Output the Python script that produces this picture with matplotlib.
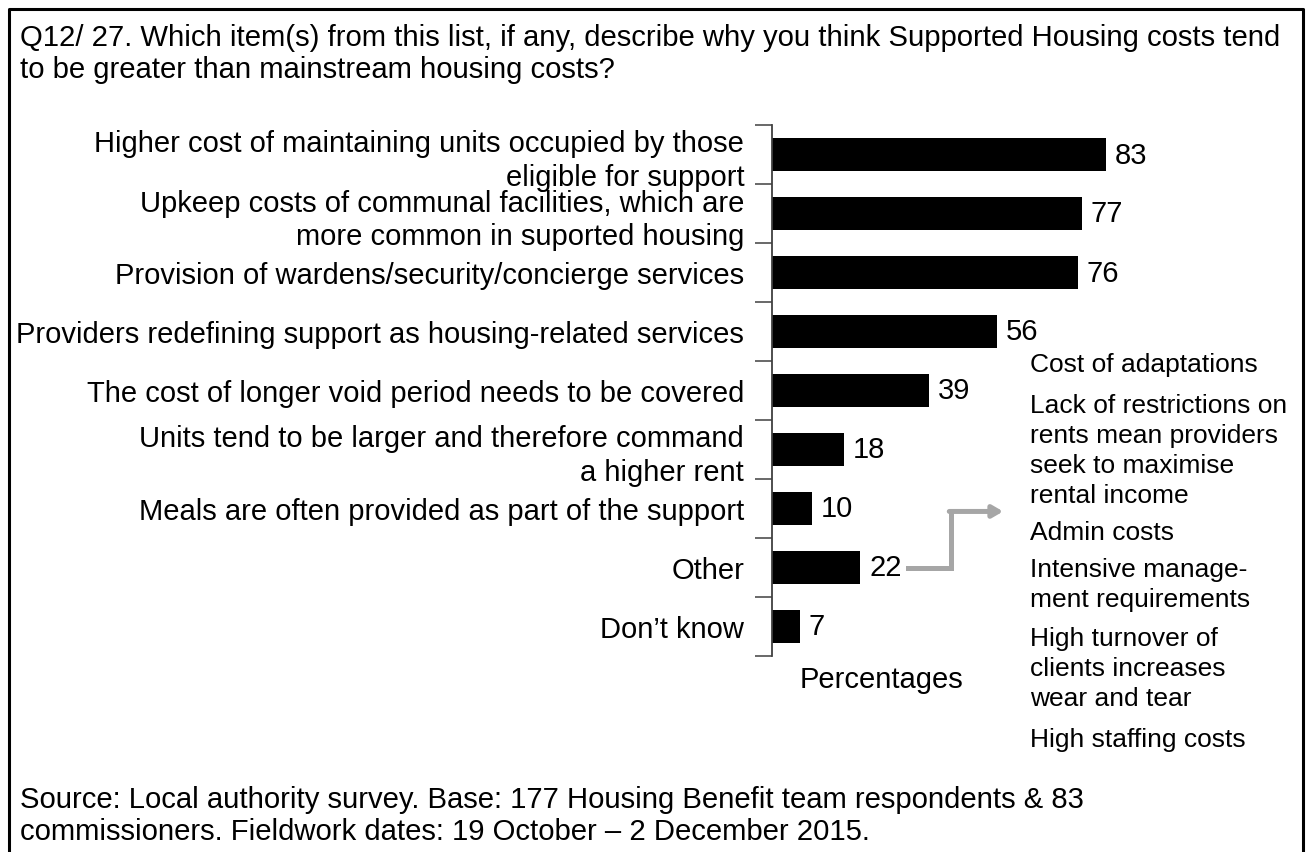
import matplotlib.pyplot as plt

plt.rcParams['font.family'] = ['Liberation Sans', 'DejaVu Sans']

# Survey answers and share of respondents (%)
reasons = [
    "Higher cost of maintaining units occupied by those\neligible for support",
    "Upkeep costs of communal facilities, which are\nmore common in suported housing",
    "Provision of wardens/security/concierge services",
    "Providers redefining support as housing-related services",
    "The cost of longer void period needs to be covered",
    "Units tend to be larger and therefore command\na higher rent",
    "Meals are often provided as part of the support",
    "Other",
    "Don\u2019t know",
]
percent = [83, 77, 76, 56, 39, 18, 10, 22, 7]

# Answers grouped under "Other"
other_items = [
    "Cost of adaptations",
    "Lack of restrictions on\nrents mean providers\nseek to maximise\nrental income",
    "Admin costs",
    "Intensive manage-\nment requirements",
    "High turnover of\nclients increases\nwear and tear",
    "High staffing costs",
]

title = ("Q12/ 27. Which item(s) from this list, if any, describe why you think Supported Housing costs tend\n"
         "to be greater than mainstream housing costs?")
source = ("Source: Local authority survey. Base: 177 Housing Benefit team respondents & 83\n"
          "commissioners. Fieldwork dates: 19 October \u2013 2 December 2015.")

W, H = 1306, 853
fig = plt.figure(figsize=(W / 100, H / 100), dpi=100)

# outer frame (open at the bottom)
fig.add_artist(plt.Line2D([9 / W, 9 / W, 1303 / W, 1303 / W], [0, 1 - 10 / H, 1 - 10 / H, 0],
                          transform=fig.transFigure, color='black', lw=2.2))

ax = fig.add_axes([772 / W, 1 - 657 / H, 402 / W, 531 / H])
pos = list(range(len(reasons)))
ax.barh(pos, percent, height=0.57, color='black')
ax.set_xlim(0, 100)
ax.set_ylim(len(reasons) - 0.5, -0.5)

for p, v in zip(pos, percent):
    ax.text(v + 2.2, p, str(v), va='center', ha='left', fontsize=21)

ax.set_yticks(pos)
ax.set_yticklabels(reasons, fontsize=21, linespacing=1.25)
ax.set_yticks([p - 0.5 for p in pos] + [len(pos) - 0.5], minor=True)
ax.tick_params(axis='y', which='major', length=0, pad=20)
ax.tick_params(axis='y', which='minor', length=12, width=1.1, color='#404040')
ax.set_xticks([])
for s in ['top', 'right', 'bottom']:
    ax.spines[s].set_visible(False)
ax.spines['left'].set_color('#404040')
ax.spines['left'].set_linewidth(1.3)
ax.patch.set_alpha(0)

# arrow from "Other" to its breakdown
grey = '#a6a6a6'
i_other = reasons.index("Other")
x0 = percent[i_other] + 11.8
ax.plot([x0, 44.5, 44.5], [i_other, i_other, i_other - 0.95], color=grey, lw=3.6,
        solid_joinstyle='miter', clip_on=False)
ax.annotate("", xy=(57.5, i_other - 0.95), xytext=(44.1, i_other - 0.95),
            arrowprops=dict(arrowstyle='-|>,head_length=0.6,head_width=0.35', color=grey, lw=3.6,
                            shrinkA=0, shrinkB=0), annotation_clip=False)

# breakdown of "Other" (vertical centre of each block, in pixels from the top)
item_y = [365, 451, 533, 585, 669, 740]
for txt, yy in zip(other_items, item_y):
    fig.text(1030 / W, 1 - yy / H, txt, ha='left', va='center', fontsize=19, linespacing=1.33)

fig.text(882 / W, 1 - 680 / H, "Percentages", ha='center', va='center', fontsize=21)
fig.text(20 / W, 1 - 54 / H, title, ha='left', va='center', fontsize=21.1, linespacing=1.2)
fig.text(20 / W, 1 - 816 / H, source, ha='left', va='center', fontsize=21.1, linespacing=1.2)

fig.savefig('out.png', dpi=100)
